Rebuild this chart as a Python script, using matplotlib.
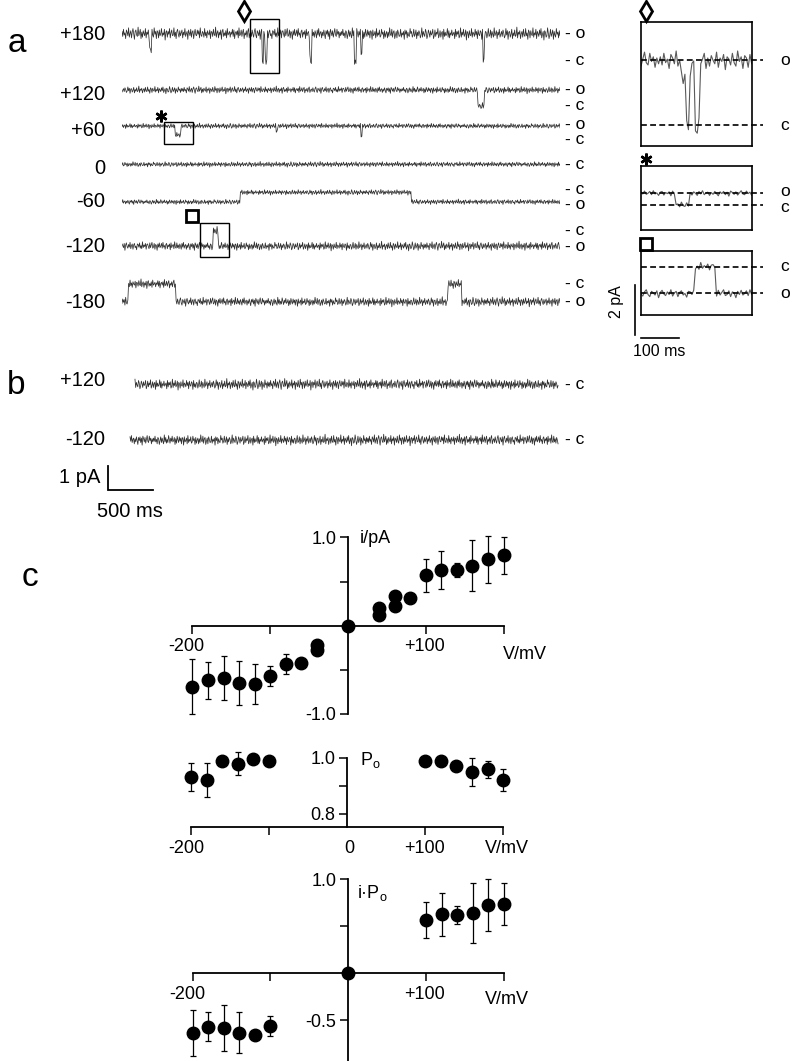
import numpy as np
import matplotlib
matplotlib.use('Agg')
import matplotlib.pyplot as plt
from matplotlib.patches import Rectangle

plt.rcParams['font.family'] = ['Liberation Sans', 'DejaVu Sans']
plt.rcParams['mathtext.fontset'] = 'custom'
plt.rcParams['mathtext.rm'] = 'Liberation Sans'
plt.rcParams['mathtext.it'] = 'Liberation Sans:italic'
plt.rcParams['mathtext.default'] = 'regular'

# ======================= DATA =======================
# hand-typed background noise (arbitrary units, -9..9)
NOISE = [
    3, -4, 6, -2, 1, -7, 5, 2, -3, 8, -5, 0, 4, -6, 2, 7, -1, -8, 3, 5,
    -2, -4, 9, -3, 1, 6, -7, 2, -5, 4, 0, -3, 7, -6, 2, -1, 5, -8, 3, 1,
    -4, 6, -2, -5, 8, -1, 3, -7, 4, 2, -6, 5, -3, 0, 7, -4, 1, -2, 6, -9,
    2, 4, -5, 3, -1, 7, -6, 1, 5, -3, -2, 8, -4, 2, -7, 3, 6, -1, -5, 4,
    -3, 1, 5, -6, 2, -2, 7, -4, 0, 3, -8, 5, 1, -3, 6, -5, 2, 4, -7, 1,
    6, -2, -3, 5, -1, 4, -6, 8, -2, -4, 3, 1, -5, 7, -3, 2, -6, 4, 0, -2,
    5, -7, 3, 2, -4, 6, -1, -3, 9, -5, 1, 4, -6, 2, -2, 5, -8, 3, 6, -4,
    1, -3, 4, -6, 7, -2, 0, 3, -5, 2, -1, 6, -4, 5, -7, 1, 3, -2, 4, -6,
    8, -3, -1, 5, -4, 2, 6, -7, 1, -2, 4, -5, 3, 7, -6, 0, 2, -4, 5, -1,
    -5, 3, 7, -2, -6, 4, 1, -3, 5, -8, 2, 6, -1, -4, 3, -2, 7, -5, 1, 4,
    -6, 2, 5, -3, 0, -7, 4, 3, -2, 6, -4, 1, -5, 8, -3, 2, -1, 5, -6, 3,
    4, -1, -5, 6, -3, 2, 7, -4, -2, 5, -6, 3, 1, -8, 4, -2, 6, -3, 0, 5,
    -4, 7, -2, 1, -6, 3, 5, -5, 2, -1, 4, -7, 6, -3, 1, 3, -5, 8, -2, -4,
    6, -3, 2, -5, 4, 0, -6, 5, -2, 7, -4, 1, 3, -6, 2, -3, 5, -1, -7, 4,
    -1, 5, -4, 3, -8, 6, 2, -3, 4, -5, 1, 7, -2, -4, 6, -1, 3, -6, 2, -3,
]

# Panel a: single-channel records at several voltages
A_VOLTAGES = ['+180', '+120', '+60', '0', '-60', '-120', '-180']
A_UNITARY = [1.13, 0.67, 0.42, 0.0, -0.40, -0.64, -0.74]      # open - closed (pA)
A_NOISE = [0.27, 0.16, 0.12, 0.12, 0.12, 0.20, 0.21]           # noise peak (pA)
A_STATES = [['o', 'c'], ['o', 'c'], ['o', 'c'], ['c'], ['c', 'o'], ['c', 'o'], ['c', 'o']]
# closures: (start ms, end ms, fraction closed)
A_CLOSURES = [
    [(310, 335, 0.6), (1575, 1595, 1.0), (1610, 1630, 1.0), (2115, 2135, 1.0),
     (2615, 2635, 1.0), (2690, 2705, 0.7), (4060, 4078, 0.95)],
    [(4000, 4075, 1.0)],
    [(600, 660, 0.9), (1735, 1752, 0.6), (2685, 2702, 1.0)],
    [],
    [(1328, 3254, 1.0)],
    [(1021, 1084, 1.0)],
    [(68, 608, 1.0), (3670, 3825, 1.0)],
]
A_DURATION = 4930  # ms

# boxed windows (start ms, length ms) shown enlarged at right
A_WINDOWS = [(1441, 326), (473, 330), (878, 330)]
INSET_DURATION = 291  # ms
INSET_UNITARY = [2.6, 0.47, -1.07]
INSET_NOISE = [0.42, 0.13, 0.19]
INSET_STATES = [['o', 'c'], ['o', 'c'], ['c', 'o']]
INSET_CLOSURES = [
    [(105, 117, 0.25), (117, 129, 1.05), (129, 141, 0.1), (141, 155, 1.05)],
    [(90, 125, 1.0)],
    [(143, 198, 1.0)],
]
INSET_SCALE = (2, 100)   # pA, ms

# Panel b: records with channel absent
B_VOLTAGES = ['+120', '-120']
B_START = [146, 90]
B_END = 4908
B_NOISE = 0.24
B_SCALE = (1, 500)       # pA, ms

# Panel c: i-V, Po-V and i*Po-V
IV_V = [-200, -180, -160, -140, -120, -100, -80, -60, -40, -40, 0,
        40, 40, 60, 60, 80, 100, 120, 140, 160, 180, 200]
IV_I = [-0.69, -0.62, -0.59, -0.65, -0.66, -0.57, -0.43, -0.42, -0.215, -0.27, 0.0,
        0.20, 0.125, 0.34, 0.226, 0.317, 0.57, 0.63, 0.63, 0.68, 0.75, 0.80]
IV_ERR = [0.31, 0.21, 0.25, 0.25, 0.23, 0.11, 0.115, 0, 0, 0, 0,
          0, 0, 0, 0, 0, 0.19, 0.22, 0.08, 0.29, 0.27, 0.21]

PO_V = [-200, -180, -160, -140, -120, -100, 100, 120, 140, 160, 180, 200]
PO = [0.93, 0.92, 0.988, 0.979, 0.994, 0.988, 0.988, 0.988, 0.969, 0.95, 0.958, 0.92]
PO_ERR = [0.05, 0.06, 0, 0.04, 0, 0, 0, 0, 0, 0.05, 0.03, 0.04]

IPO_V = [-200, -180, -160, -140, -120, -100, 0, 100, 120, 140, 160, 180, 200]
IPO = [-0.635, -0.565, -0.58, -0.63, -0.65, -0.555, 0.0, 0.565, 0.625, 0.615, 0.64, 0.725, 0.733]
IPO_ERR = [0.245, 0.155, 0.24, 0.22, 0, 0.105, 0, 0.19, 0.225, 0.095, 0.32, 0.275, 0.22]

# ======================= LAYOUT =======================
W, H = 800, 1061
fig = plt.figure(figsize=(W / 100, H / 100), dpi=100)
TRACE_COLOR = '#303030'
FS_V = 14.5     # voltage labels, panel b scale
FS_S = 12.5     # state letters
FS_IN = 11.5    # inset scale text


def px_axes(x0, y0, x1, y1):
    return fig.add_axes([x0 / W, 1 - y1 / H, (x1 - x0) / W, (y1 - y0) / H])


def ftext(x, y, s, **kw):
    return fig.text(x / W, 1 - y / H, s, **kw)


def closed_fraction(t, closures):
    f = np.zeros_like(t)
    for t0, t1, fr in closures:
        f[(t >= t0) & (t < t1)] = fr
    return f


noise = np.array(NOISE, float) / 9.0
noise_long = np.concatenate([noise, -noise[::-1]])

# ---------------- panel a ----------------
PX_PER_PA = 24.0
A_X0, A_X1 = 122, 560
MS_PER_PX = A_DURATION / (A_X1 - A_X0)
axA = px_axes(A_X0, 0, A_X1, 330)
axA.set_xlim(0, A_DURATION)
axA.set_ylim(-330 / PX_PER_PA, 0)
axA.axis('off')

closed_py = [60.7, 106, 136, 164.3, 192.3, 230.7, 284]
label_py = [34.3, 95, 131, 169, 201.7, 247, 302.7]
# letter offsets where o and c labels sit close together
state_nudge = {(2, 'o'): -1.5, (2, 'c'): 3.5, (4, 'c'): -2.5, (4, 'o'): 2.5}
t_a = np.linspace(0, A_DURATION, len(noise_long))
for k in range(len(A_VOLTAGES)):
    base = -closed_py[k] / PX_PER_PA
    f = closed_fraction(t_a, A_CLOSURES[k])
    y = base + A_UNITARY[k] * (1 - f) + A_NOISE[k] * np.roll(noise_long, 83 * k)
    axA.plot(t_a, y, color=TRACE_COLOR, lw=0.55)
    ftext(105, label_py[k], A_VOLTAGES[k], ha='right', va='center', fontsize=FS_V)
    for s in A_STATES[k]:
        py = closed_py[k] if s == 'c' else closed_py[k] - A_UNITARY[k] * PX_PER_PA
        py += state_nudge.get((k, s), 0)
        ftext(565, py, '- ' + s, ha='left', va='center', fontsize=FS_S)

box_py = [(19.3, 72.7), (122, 144), (223.3, 257.3)]
for (w0, wl), (y0, y1) in zip(A_WINDOWS, box_py):
    axA.add_patch(Rectangle((w0, -y1 / PX_PER_PA), wl, (y1 - y0) / PX_PER_PA,
                            fill=False, ec='black', lw=1.0, clip_on=False, zorder=4))


def symbol(x, y, kind):
    xf, yf = x / W, 1 - y / H
    if kind == 'diamond':
        fig.lines.append(plt.Line2D([xf], [yf], marker='d', ms=10.5, mfc='white',
                                    mec='black', mew=2.0, transform=fig.transFigure))
    elif kind == 'asterisk':
        fig.lines.append(plt.Line2D([xf], [yf], marker=(6, 2, 0), ms=8.5,
                                    mec='black', mew=1.8, transform=fig.transFigure))
    else:
        fig.lines.append(plt.Line2D([xf], [yf], marker='s', ms=8, mfc='white',
                                    mec='black', mew=2.0, transform=fig.transFigure))


symbol(244.3, 10.7, 'diamond')
symbol(160.7, 116, 'asterisk')
symbol(191.7, 215.7, 'square')

# ---------------- insets ----------------
IN_X0, IN_X1 = 641, 751.7
IN_PX_PER_PA = 25.0
IN_MS_PER_PX = INSET_DURATION / (IN_X1 - IN_X0)
inset_box = [(22, 146), (165.7, 230), (251, 315.3)]
inset_closed_py = [125.3, 205, 266.7]
inset_sym = ['diamond', 'asterisk', 'square']
inset_sym_py = [11, 159.3, 243.7]
inset_nudge = {(1, 'o'): -1.5, (1, 'c'): 2.5}
t_in = np.linspace(0, INSET_DURATION, 64)
for k in range(3):
    y0, y1 = inset_box[k]
    cpy = inset_closed_py[k]
    ax = px_axes(IN_X0, y0, IN_X1, y1)
    ax.set_xlim(0, INSET_DURATION)
    ax.set_ylim((cpy - y1) / IN_PX_PER_PA, (cpy - y0) / IN_PX_PER_PA)
    ax.set_xticks([]); ax.set_yticks([])
    for sp in ax.spines.values():
        sp.set_linewidth(1.2)
    f = closed_fraction(t_in, INSET_CLOSURES[k])
    y = INSET_UNITARY[k] * (1 - f) + INSET_NOISE[k] * np.roll(noise, 55 * k + 11)[:len(t_in)]
    ax.plot(t_in, y, color='#5a5a5a', lw=0.8, zorder=2)
    x_end = (763 - IN_X0) * IN_MS_PER_PX
    for s in INSET_STATES[k]:
        lvl = 0.0 if s == 'c' else INSET_UNITARY[k]
        ax.plot([0, x_end], [lvl, lvl], color='black', lw=1.2, dashes=(3.5, 2.0),
                clip_on=False, zorder=3)
        ftext(785, cpy - lvl * IN_PX_PER_PA + inset_nudge.get((k, s), 0), s,
              ha='center', va='center', fontsize=FS_S)
    symbol(645.5, inset_sym_py[k], inset_sym[k])
    if k == 2:
        sx = -(IN_X0 - 635) * IN_MS_PER_PX
        ytop = (cpy - 285) / IN_PX_PER_PA
        ax.plot([sx, sx], [ytop, ytop - INSET_SCALE[0]], color='black', lw=1.2, clip_on=False)
        yb = (cpy - 338.3) / IN_PX_PER_PA
        ax.plot([0, INSET_SCALE[1]], [yb, yb], color='black', lw=1.2, clip_on=False)
        ftext(616, 301.7, f'{INSET_SCALE[0]} pA', rotation=90, ha='center', va='center',
              fontsize=FS_IN)
        ftext(659.3, 352, f'{INSET_SCALE[1]} ms', ha='center', va='center', fontsize=FS_IN)

# ---------------- panel b ----------------
axB = px_axes(A_X0, 360, A_X1, 520)
axB.set_xlim(0, A_DURATION)
axB.set_ylim(-160 / PX_PER_PA, 0)
axB.axis('off')
b_py = [384.3, 440]
b_label_py = [380.7, 439.3]
for k in range(2):
    t_b = np.linspace(B_START[k], B_END, len(noise_long))
    y = -(b_py[k] - 360) / PX_PER_PA + B_NOISE * np.roll(noise_long, 190 + 143 * k)
    axB.plot(t_b, y, color=TRACE_COLOR, lw=0.55)
    ftext(105, b_label_py[k], B_VOLTAGES[k], ha='right', va='center', fontsize=FS_V)
    ftext(565, b_py[k], '- c', ha='left', va='center', fontsize=FS_S)
sx = (108.3 - A_X0) * MS_PER_PX
yb = -(490 - 360) / PX_PER_PA
axB.plot([sx, sx, sx + B_SCALE[1]], [yb + B_SCALE[0], yb, yb], color='black', lw=1.3,
         clip_on=False, solid_joinstyle='miter')
ftext(100, 477.3, f'{B_SCALE[0]} pA', ha='right', va='center', fontsize=FS_V)
ftext(130, 511.7, f'{B_SCALE[1]} ms', ha='center', va='center', fontsize=FS_V)

# panel letters
ftext(17, 43, 'a', ha='center', va='center', fontsize=24)
ftext(16, 385, 'b', ha='center', va='center', fontsize=24)
ftext(30, 578, 'c', ha='center', va='center', fontsize=24)


# ---------------- panel c ----------------
def center_axes(box, x0px, xs, y0py, ys, xbounds, ybounds, xspine_at=0.0):
    bx0, by0, bx1, by1 = box
    ax = px_axes(bx0, by0, bx1, by1)
    ax.set_xlim((bx0 - x0px) / xs, (bx1 - x0px) / xs)
    ax.set_ylim((y0py - by1) / ys, (y0py - by0) / ys)
    ax.spines['top'].set_visible(False)
    ax.spines['right'].set_visible(False)
    ax.spines['left'].set_position(('data', 0))
    ax.spines['bottom'].set_position(('data', xspine_at))
    ax.spines['left'].set_bounds(*ybounds)
    ax.spines['bottom'].set_bounds(*xbounds)
    for s in ('left', 'bottom'):
        ax.spines[s].set_linewidth(1.3)
    ax.tick_params(direction='out', length=5.5, width=1.1, labelsize=13, pad=3)
    ax.patch.set_visible(False)
    ax.set_xticks([-200, -100, 100, 200])
    ax.set_xticklabels([])
    return ax


def dots(ax, x, y, e):
    cont = ax.errorbar(x, y, yerr=e, fmt='o', ms=9, color='black', ecolor='black',
                       elinewidth=0.9, capsize=2.5, capthick=0.9, zorder=3)
    for art in cont.get_children():
        art.set_clip_on(False)


def lbl(ax, x, y, s, **kw):
    ax.text(x, y, s, fontsize=13, clip_on=False, **kw)


# i-V
axIV = center_axes((160, 525, 545, 725), 348, 0.778, 625.7, 88.3, (-200, 200), (-1, 1))
axIV.set_yticks([-1, -0.5, 0.5, 1])
axIV.set_yticklabels(['-1.0', '', '', '1.0'])
dots(axIV, IV_V, IV_I, IV_ERR)
lbl(axIV, -207.3, -0.238, '-200', ha='center', va='center')
lbl(axIV, 97.7, -0.238, '+100', ha='center', va='center')
lbl(axIV, 227.5, -0.33, 'V/mV', ha='center', va='center')
lbl(axIV, 14.5, 0.99, 'i/pA', ha='left', va='center')

# Po-V
axPO = center_axes((160, 745, 545, 830), 347.15, 0.781, 1037.7, 280, (-200, 200), (0.754, 1.0),
                   xspine_at=0.754)
axPO.set_yticks([0.8, 0.9, 1.0])
axPO.set_yticklabels(['0.8', '', '1.0'])
dots(axPO, PO_V, PO, PO_ERR)
lbl(axPO, -205.4, 0.6775, '-200', ha='center', va='center')
lbl(axPO, 2.4, 0.6775, '0', ha='center', va='center')
lbl(axPO, 98.4, 0.6775, '+100', ha='center', va='center')
lbl(axPO, 204.3, 0.6775, 'V/mV', ha='center', va='center')
lbl(axPO, 16.5, 0.992, r'$\mathrm{P}_\mathrm{o}$', ha='left', va='center')

# i*Po-V
axIP = center_axes((160, 868, 545, 1061), 348.3, 0.778, 973.3, 94.3, (-200, 200), (-0.93, 1.0))
axIP.set_yticks([-0.5, 0.5, 1.0])
axIP.set_yticklabels(['-0.5', '', '1.0'])
dots(axIP, IPO_V, IPO, IPO_ERR)
lbl(axIP, -207.3, -0.23, '-200', ha='center', va='center')
lbl(axIP, 97.7, -0.23, '+100', ha='center', va='center')
lbl(axIP, 204.3, -0.283, 'V/mV', ha='center', va='center')
lbl(axIP, 10.8, 0.85, r'i·$\mathrm{P}_\mathrm{o}$', ha='left', va='center')

fig.savefig('out.png', dpi=100)
